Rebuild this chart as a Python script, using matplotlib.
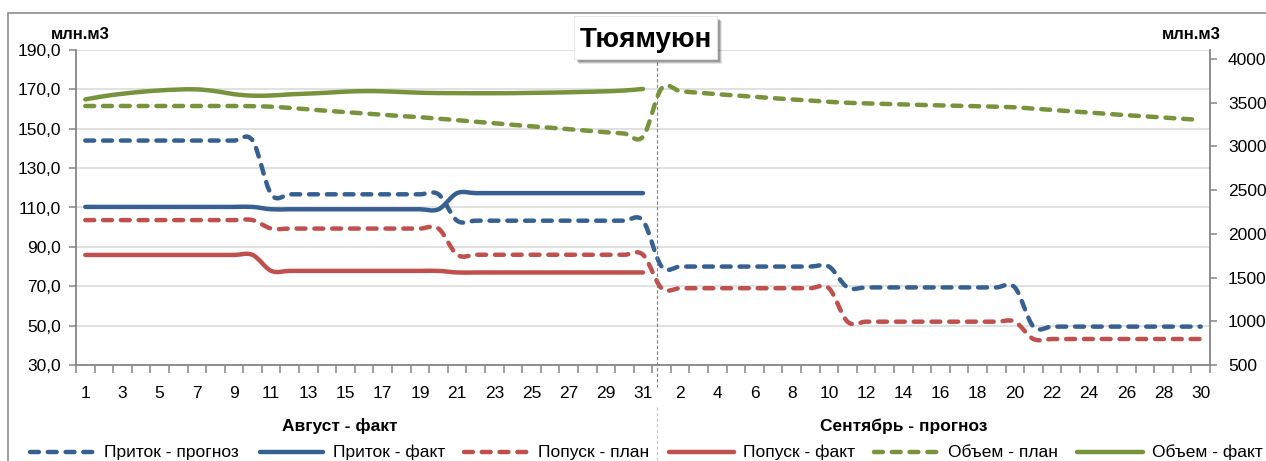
import numpy as np
import matplotlib
matplotlib.use("Agg")
import matplotlib.pyplot as plt
from matplotlib.path import Path
from matplotlib.patches import PathPatch, Rectangle
from matplotlib.lines import Line2D

# ---------------- data ----------------
aug_days = list(range(1, 32))
sep_days = list(range(1, 31))

pritok_prognoz = [144.0, 144.0, 144.0, 144.0, 144.0, 144.0, 144.0, 144.0, 144.0, 144.0,
                  116.7, 116.7, 116.7, 116.7, 116.7, 116.7, 116.7, 116.7, 116.7, 116.7,
                  103.3, 103.3, 103.3, 103.3, 103.3, 103.3, 103.3, 103.3, 103.3, 103.3, 103.3,
                  80.0, 80.0, 80.0, 80.0, 80.0, 80.0, 80.0, 80.0, 80.0, 80.0,
                  69.4, 69.4, 69.4, 69.4, 69.4, 69.4, 69.4, 69.4, 69.4, 69.4,
                  49.5, 49.5, 49.5, 49.5, 49.5, 49.5, 49.5, 49.5, 49.5, 49.5]
pritok_fakt = [110.3, 110.3, 110.3, 110.3, 110.3, 110.3, 110.3, 110.3, 110.3, 110.3,
               109.1, 109.1, 109.1, 109.1, 109.1, 109.1, 109.1, 109.1, 109.1, 109.1,
               117.3, 117.3, 117.3, 117.3, 117.3, 117.3, 117.3, 117.3, 117.3, 117.3, 117.3]
popusk_plan = [103.6, 103.6, 103.6, 103.6, 103.6, 103.6, 103.6, 103.6, 103.6, 103.6,
               99.3, 99.3, 99.3, 99.3, 99.3, 99.3, 99.3, 99.3, 99.3, 99.3,
               86.0, 86.0, 86.0, 86.0, 86.0, 86.0, 86.0, 86.0, 86.0, 86.0, 86.0,
               69.0, 69.0, 69.0, 69.0, 69.0, 69.0, 69.0, 69.0, 69.0, 69.0,
               52.0, 52.0, 52.0, 52.0, 52.0, 52.0, 52.0, 52.0, 52.0, 52.0,
               43.2, 43.2, 43.2, 43.2, 43.2, 43.2, 43.2, 43.2, 43.2, 43.2]
popusk_fakt = [85.9, 85.9, 85.9, 85.9, 85.9, 85.9, 85.9, 85.9, 85.9, 85.9,
               77.8, 77.8, 77.8, 77.8, 77.8, 77.8, 77.8, 77.8, 77.8, 77.8,
               77.0, 77.0, 77.0, 77.0, 77.0, 77.0, 77.0, 77.0, 77.0, 77.0, 77.0]
obem_plan = [3460, 3460, 3460, 3460, 3460, 3460, 3460, 3460, 3460, 3458,
             3452, 3438, 3422, 3405, 3390, 3375, 3360, 3345, 3332, 3315,
             3298, 3280, 3263, 3245, 3228, 3212, 3195, 3178, 3160, 3145, 3110,
             3662, 3630, 3612, 3595, 3580, 3565, 3550, 3535, 3522, 3508,
             3497, 3490, 3484, 3478, 3472, 3467, 3462, 3457, 3452, 3445,
             3430, 3415, 3400, 3385, 3370, 3355, 3342, 3328, 3314, 3300]
obem_fakt = [3535, 3572, 3600, 3622, 3638, 3648, 3650, 3630, 3595, 3578,
             3580, 3593, 3602, 3612, 3624, 3630, 3628, 3620, 3612, 3608,
             3607, 3606, 3606, 3607, 3610, 3613, 3617, 3622, 3628, 3637, 3655]

left_ticks = [30, 50, 70, 90, 110, 130, 150, 170, 190]
right_ticks = [500, 1000, 1500, 2000, 2500, 3000, 3500, 4000]

title = "Тюямуюн"
unit_label = "млн.м3"
aug_label = "Август - факт"
sep_label = "Сентябрь - прогноз"
legend_labels = ["Приток - прогноз", "Приток - факт", "Попуск - план",
                 "Попуск - факт", "Объем - план", "Объем - факт"]

BLUE = "#376092"
RED = "#C0504D"
GREEN = "#77933C"
GRAY = "#868686"

FONT = ["Liberation Sans", "DejaVu Sans"]
plt.rcParams["font.family"] = FONT

W, H = 1266, 461
fig = plt.figure(figsize=(W / 100, H / 100), dpi=100)


def fx(x):
    return x / W


def fy(y):
    return 1 - y / H


# outer frame
fig.add_artist(Rectangle((fx(8), fy(470)), fx(1270), fy(13) - fy(470),
                         transform=fig.transFigure, fill=False,
                         edgecolor="#8C8C8C", lw=1.2, zorder=0))

ax = fig.add_axes([fx(76), fy(365), fx(1210) - fx(76), fy(50) - fy(365)])
ax2 = ax.twinx()

n_all = len(aug_days) + len(sep_days)
x_all = np.arange(n_all)
x_aug = np.arange(len(aug_days))


def smooth_path(xs, ys):
    pts = np.column_stack([xs, ys]).astype(float)
    n = len(pts)
    verts = [pts[0]]
    codes = [Path.MOVETO]
    for i in range(n - 1):
        p0 = pts[i - 1] if i > 0 else pts[i]
        p1 = pts[i]
        p2 = pts[i + 1]
        p3 = pts[i + 2] if i + 2 < n else pts[i + 1]
        c1 = p1 + (p2 - p0) / 6.0
        c2 = p2 - (p3 - p1) / 6.0
        verts += [c1, c2, p2]
        codes += [Path.CURVE4] * 3
    return Path(verts, codes)


LW = 3.2
DASH = (0, (2.0, 2.0))


def draw(axis, xs, ys, color, dashed, z):
    ls = DASH if dashed else "solid"
    patch = PathPatch(smooth_path(xs, ys), fill=False, edgecolor=color, lw=LW,
                      linestyle=ls, capstyle="round", joinstyle="round", zorder=z)
    axis.add_patch(patch)


draw(ax, x_all, pritok_prognoz, BLUE, True, 3)
draw(ax, x_aug, pritok_fakt, BLUE, False, 3)
draw(ax, x_all, popusk_plan, RED, True, 3)
draw(ax, x_aug, popusk_fakt, RED, False, 3)
draw(ax2, x_all, obem_plan, GREEN, True, 3)
draw(ax2, x_aug, obem_fakt, GREEN, False, 3)

ax.set_xlim(-0.5, n_all - 0.5)
ax.set_ylim(30, 190)
ax2.set_ylim(500, 4100)

# x ticks
all_day_labels = aug_days + sep_days
major = list(range(0, n_all, 2))
ax.set_xticks(major)
ax.set_xticklabels([str(all_day_labels[i]) for i in major])
ax.set_xticks(np.arange(-0.5, n_all, 1.0), minor=True)
ax.tick_params(axis="x", which="major", length=0, pad=15, labelsize=12.5)
ax.tick_params(axis="x", which="minor", length=5.5, width=1.1, color=GRAY,
               direction="out")

ax.set_yticks(left_ticks)
ax.set_yticklabels([f"{v:.1f}".replace(".", ",") for v in left_ticks])
ax.tick_params(axis="y", length=5, width=1.1, color=GRAY, pad=6, labelsize=12.5)
ax2.set_yticks(right_ticks)
ax2.set_yticklabels([str(v) for v in right_ticks])
ax2.tick_params(axis="y", length=5, width=1.1, color=GRAY, pad=8, labelsize=12.5)

ax.yaxis.grid(True, color="#D9D9D9", lw=1.1)
ax.set_axisbelow(True)
for s in ["top", "right"]:
    ax.spines[s].set_visible(False)
for s in ["top", "left", "bottom"]:
    ax2.spines[s].set_visible(False)
for s in ["left", "bottom"]:
    ax.spines[s].set_color(GRAY)
    ax.spines[s].set_linewidth(1.3)
ax2.spines["right"].set_color(GRAY)
ax2.spines["right"].set_linewidth(1.3)

# divider between months
fig.add_artist(Line2D([fx(657), fx(657)], [fy(62), fy(387)], transform=fig.transFigure,
                      color="#7F7F7F", lw=0.8, linestyle=(0, (3, 2)), zorder=5))
fig.add_artist(Line2D([fx(657), fx(657)], [fy(407), fy(461)], transform=fig.transFigure,
                      color="#C8C8C8", lw=0.8, linestyle=(0, (3, 2)), zorder=5))

# unit labels
fig.text(fx(51), fy(39), unit_label, fontsize=12, fontweight="bold",
         ha="left", va="baseline")
fig.text(fx(1221), fy(39), unit_label, fontsize=12, fontweight="bold",
         ha="right", va="baseline")

# month labels
fig.text(fx(340), fy(431), aug_label, fontsize=12.5, fontweight="bold",
         ha="center", va="baseline")
fig.text(fx(904), fy(431), sep_label, fontsize=12.5, fontweight="bold",
         ha="center", va="baseline")

# title box with shadow
for off, a in [(5, 0.10), (4, 0.15), (3, 0.2)]:
    fig.add_artist(Rectangle((fx(574 + off), fy(59 + off)), fx(143), fy(16) - fy(59),
                             transform=fig.transFigure, facecolor="#000000",
                             alpha=a, edgecolor="none", zorder=6))
fig.add_artist(Rectangle((fx(574), fy(59)), fx(143), fy(16) - fy(59),
                         transform=fig.transFigure, facecolor="white",
                         edgecolor="#E6E6E6", lw=0.6, zorder=7))
fig.text(fx(645.5), fy(47), title, fontsize=20, fontweight="bold",
         ha="center", va="baseline", zorder=8)

# legend (manual)
leg_items = [(28, 96, 104, BLUE, True), (258, 325, 333, BLUE, False),
             (462, 530, 538, RED, True), (667, 736, 743, RED, False),
             (872, 940, 948, GREEN, True), (1075, 1145, 1152, GREEN, False)]
for (x0, x1, xt, c, d), lab in zip(leg_items, legend_labels):
    fig.add_artist(Line2D([fx(x0 + 2), fx(x1 - 2)], [fy(452), fy(452)],
                          transform=fig.transFigure, color=c, lw=LW,
                          linestyle=DASH if d else "solid",
                          dash_capstyle="round", solid_capstyle="round"))
    fig.text(fx(xt), fy(457), lab, fontsize=12.5, ha="left", va="baseline")

fig.savefig("out.png", dpi=100, facecolor="white")
